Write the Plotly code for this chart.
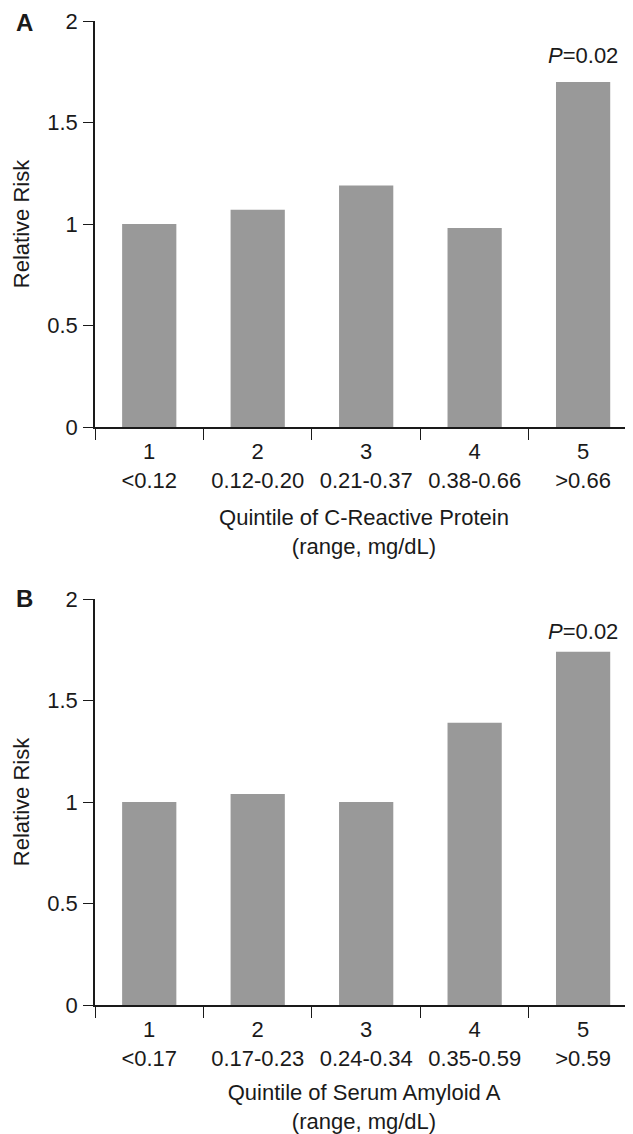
import plotly.graph_objects as go

# ---- data ----
quintiles = ["1", "2", "3", "4", "5"]
crp_ranges = ["<0.12", "0.12-0.20", "0.21-0.37", "0.38-0.66", ">0.66"]
saa_ranges = ["<0.17", "0.17-0.23", "0.24-0.34", "0.35-0.59", ">0.59"]
crp_rr = [1.00, 1.07, 1.19, 0.98, 1.70]
saa_rr = [1.00, 1.04, 1.00, 1.39, 1.74]
y_ticks = [0, 0.5, 1, 1.5, 2]
y_ticktext = ["0", "0.5", "1", "1.5", "2"]
p_text = "<i>P</i>=0.02"
crp_title = "Quintile of C-Reactive Protein<br>(range, mg/dL)"
saa_title = "Quintile of Serum Amyloid A<br>(range, mg/dL)"
y_title = "Relative Risk"


def esc(s):
    return s.replace("<", "&lt;").replace(">", "&gt;")


crp_labels = [f"{q}<br>{esc(r)}" for q, r in zip(quintiles, crp_ranges)]
saa_labels = [f"{q}<br>{esc(r)}" for q, r in zip(quintiles, saa_ranges)]

# page body has an 8px default margin; size the figure to fill the window
OFF = 8
W, H = 633 - OFF, 1134 - OFF
FONT = "Liberation Sans, Arial, Helvetica, sans-serif"
INK = "#1a1a1a"
BAR = "#999999"


def px_x(x):
    return (x - OFF) / W


def px_y(y):
    return 1 - (y - OFF) / H


fig = go.Figure()
fig.add_trace(go.Bar(x=crp_labels, y=crp_rr, marker_color=BAR, marker_line_width=0,
                     xaxis="x", yaxis="y", showlegend=False))
fig.add_trace(go.Bar(x=saa_labels, y=saa_rr, marker_color=BAR, marker_line_width=0,
                     xaxis="x2", yaxis="y2", showlegend=False))

xdom = [px_x(95), 1.0]

common_x = dict(
    type="category", domain=xdom, range=[-0.5, 4.46], showline=True, linecolor=INK,
    linewidth=1.5, ticks="outside", tickson="boundaries", ticklen=11, tickwidth=1.2,
    tickcolor=INK, showgrid=False, zeroline=False, automargin=False, ticklabelstandoff=4,
    tickfont=dict(family=FONT, size=22, color=INK),
)
common_y = dict(
    range=[0, 2], tickvals=y_ticks, ticktext=y_ticktext, showline=True, linecolor=INK,
    linewidth=1.5, ticks="outside", ticklen=10, tickwidth=1.2, tickcolor=INK,
    showgrid=False, zeroline=False, automargin=False, ticklabelstandoff=1,
    tickfont=dict(family=FONT, size=22, color=INK),
)

fig.update_layout(
    width=W, height=H, margin=dict(l=0, r=0, t=0, b=0),
    paper_bgcolor="white", plot_bgcolor="white", bargap=0.5,
    font=dict(family=FONT, color=INK),
    xaxis=dict(common_x, anchor="y",
               title=dict(text=crp_title, standoff=18, font=dict(family=FONT, size=22, color=INK))),
    yaxis=dict(common_y, domain=[px_y(427), px_y(21)], anchor="x",
               title=dict(text=y_title, standoff=12, font=dict(family=FONT, size=22, color=INK))),
    xaxis2=dict(common_x, anchor="y2",
                title=dict(text=saa_title, standoff=18, font=dict(family=FONT, size=22, color=INK))),
    yaxis2=dict(common_y, domain=[px_y(1005), px_y(599)], anchor="x2",
                title=dict(text=y_title, standoff=12, font=dict(family=FONT, size=22, color=INK))),
)

annos = [
    dict(text=p_text, x=crp_labels[4], y=crp_rr[4], xref="x", yref="y", yanchor="bottom",
         yshift=12, showarrow=False, font=dict(family=FONT, size=22, color=INK)),
    dict(text=p_text, x=saa_labels[4], y=saa_rr[4], xref="x2", yref="y2", yanchor="bottom",
         yshift=6, showarrow=False, font=dict(family=FONT, size=22, color=INK)),
    dict(text="<b>A</b>", x=px_x(24), y=px_y(23), xref="paper", yref="paper",
         xanchor="center", yanchor="middle", showarrow=False,
         font=dict(family=FONT, size=24, color=INK)),
    dict(text="<b>B</b>", x=px_x(24), y=px_y(599), xref="paper", yref="paper",
         xanchor="center", yanchor="middle", showarrow=False,
         font=dict(family=FONT, size=24, color=INK)),
]
fig.update_layout(annotations=annos)

fig.write_html("out.html")
